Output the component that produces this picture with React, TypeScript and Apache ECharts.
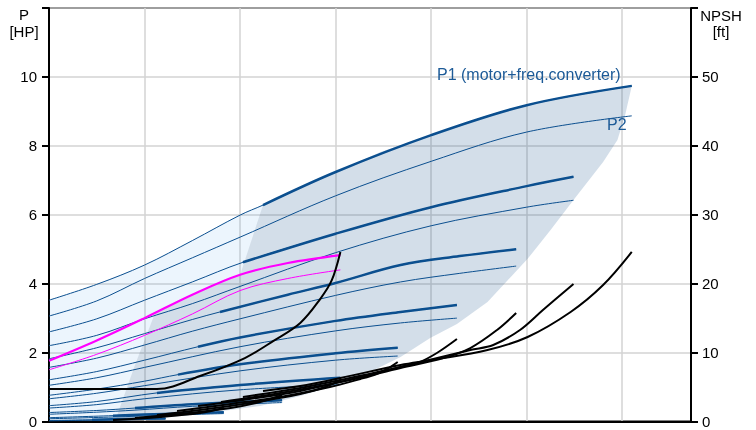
import { useEffect, useRef } from "react";
import * as echarts from "echarts";

// x: flow (grid every 10 units), left y: P [HP], right y: NPSH [ft]
const xMax = 67.2;
const leftMax = 12;
const rightMax = 60;

// Power curves per speed (P1 = motor+freq.converter, P2 = shaft)
const p1A = [[0, 3.52], [5, 3.98], [10, 4.54], [15, 5.25], [20, 5.99], [22.4, 6.28], [30, 7.24], [40, 8.31], [50, 9.18], [61, 9.74]];
const p2A = [[0, 3.06], [5, 3.5], [10, 4.15], [15, 4.75], [20, 5.35], [30, 6.55], [40, 7.55], [50, 8.4], [61, 8.87]];
const p1B = [[0, 2.6], [5, 2.98], [10, 3.52], [15, 4.05], [20.3, 4.62], [30, 5.45], [40, 6.22], [50, 6.83], [54.9, 7.1]];
const p2B = [[0, 2.2], [5, 2.5], [10, 2.98], [15, 3.42], [20, 3.92], [30, 4.9], [40, 5.68], [50, 6.22], [54.9, 6.42]];
const p1C = [[0, 1.82], [5, 2.14], [10, 2.55], [15, 2.96], [17.9, 3.18], [25, 3.68], [30, 4.02], [36.8, 4.54], [43, 4.8], [48.9, 5.0]];
const p2C = [[0, 1.57], [5, 1.84], [10, 2.22], [15, 2.62], [20, 2.98], [30, 3.66], [36.8, 4.05], [43, 4.3], [48.9, 4.51]];
const p1D = [[0, 1.21], [5, 1.45], [10, 1.78], [15.6, 2.17], [20, 2.44], [30, 2.92], [36.8, 3.18], [42.7, 3.38]];
const p2D = [[0, 1.05], [5, 1.27], [10, 1.57], [20, 2.17], [30, 2.63], [36.8, 2.86], [42.7, 3.0]];
const p1E = [[0, 0.76], [5, 0.94], [10, 1.17], [13.5, 1.36], [20, 1.66], [30, 1.98], [36.5, 2.14]];
const p2E = [[0, 0.66], [5, 0.82], [10, 1.04], [20, 1.47], [30, 1.78], [36.5, 1.9]];
const p1F = [[0, 0.46], [5, 0.58], [11.3, 0.83], [20, 1.06], [30.5, 1.27]];
const p2F = [[0, 0.39], [5, 0.49], [10, 0.66], [20, 0.92], [30.5, 1.07]];
const p1G = [[0, 0.26], [5, 0.32], [9, 0.39], [15, 0.5], [24.4, 0.62]];
const p2G = [[0, 0.21], [5, 0.27], [9, 0.33], [15, 0.44], [24.4, 0.55]];
const p1H = [[0, 0.11], [6.7, 0.17], [12, 0.22], [18.3, 0.27]];
const p2H = [[0, 0.08], [6.7, 0.13], [12, 0.18], [18.3, 0.23]];
const p1I = [[0, 0.03], [4.5, 0.05], [8, 0.07], [12.2, 0.09]];
const p2I = [[0, 0.02], [4.5, 0.04], [8, 0.06], [12.2, 0.08]];
const thickFrom = [22.4, 20.3, 17.9, 15.6, 13.5, 11.3, 9, 6.7, 4.5];

// Magenta curves
const p1M = [[0, 1.76], [5, 2.35], [10, 3.0], [15, 3.68], [20, 4.26], [25, 4.6], [30.5, 4.83]];
const p2M = [[0, 1.5], [5, 1.95], [10, 2.5], [15, 3.12], [20, 3.8], [25, 4.15], [30.5, 4.4]];

// NPSH curves [ft]
const npshA = [[22.4, 4.43], [26.3, 5.15], [30.5, 6.31], [36.8, 8.2], [40, 8.92], [45.9, 10.37], [50.1, 12.26], [54.6, 15.89], [58, 19.8], [61, 24.6]];
const npshB = [[20.3, 3.55], [26.3, 4.86], [30.5, 6.02], [36.8, 7.91], [44.1, 10.37], [46.5, 11.1], [49.3, 13.28], [51.7, 16.18], [54.9, 19.95]];
const npshC = [[18, 2.83], [24.2, 4.13], [30.5, 5.73], [36.8, 7.76], [41.3, 9.21], [44.1, 10.66], [46.9, 13.28], [48.9, 15.74]];
const npshD = [[15.6, 2.25], [21, 3.26], [26.3, 4.43], [32.6, 6.46], [36.8, 7.91], [38.8, 8.63], [40.6, 9.94], [42.7, 11.97]];
const npshE = [[13.4, 1.52], [19, 2.54], [24.2, 3.55], [29.4, 5.0], [32.6, 6.17], [34.3, 6.89], [35.4, 7.62], [36.5, 8.63]];
const npshF = [[11.3, 0.94], [15.8, 1.67], [21, 2.68], [26.3, 3.99], [28.9, 5.0], [30.5, 6.02]];
const npshG = [[9, 0.51], [13.7, 1.09], [19, 1.96], [22.1, 2.83], [24.4, 3.85]];
const npshH = [[6.7, 0.22], [11.6, 0.65], [15.8, 1.23], [18.3, 1.96]];
const npshM = [[0, 4.72], [11.3, 4.72], [15.8, 6.6], [20.5, 9.21], [23.5, 11.7], [26.3, 14.3], [28.4, 17.8], [29.6, 20.5], [30.5, 24.6]];

// Regions (in flow / HP units)
const paleRegion = [[0, 0], [0, 3.52], [5, 3.98], [10, 4.54], [15, 5.25], [20, 5.99], [22.4, 6.28], [20, 4.25], [18.4, 4.08], [15.8, 3.76], [13.2, 3.41], [11.1, 3.15], [9.0, 1.64], [6.9, 0]];
const darkRegion = [
  [6.9, 0], [9.0, 1.64], [11.1, 3.15], [13.2, 3.41], [15.8, 3.76], [18.4, 4.08], [20.0, 4.25], [22.4, 6.28],
  [26.3, 6.77], [30.1, 7.24], [34.7, 7.82], [39.9, 8.31], [45.1, 8.78], [50.1, 9.18], [55.6, 9.5], [61.0, 9.74],
  [60.3, 8.89], [59.5, 8.17], [58.0, 7.53], [54.9, 6.43], [52.5, 5.56], [50.1, 4.72], [45.9, 3.47], [42.7, 2.83],
  [39.9, 2.42], [36.8, 1.87], [33.6, 1.44], [30.5, 1.09], [26.3, 0.74], [22.1, 0.45], [15.8, 0.22], [10.6, 0.07],
];

const P1_LABEL = "P1 (motor+freq.converter)";
const P2_LABEL = "P2";

const BLUE = "#0b4f8f";
const FONT = '"Liberation Sans", Arial, sans-serif';

export default function App() {
  const ref = useRef<HTMLDivElement>(null);
  useEffect(() => {
    const chart = echarts.init(ref.current!, null, { renderer: "svg" });
    const p1s = [p1A, p1B, p1C, p1D, p1E, p1F, p1G, p1H, p1I];
    const p2s = [p2A, p2B, p2C, p2D, p2E, p2F, p2G, p2H, p2I];
    const npshs = [npshA, npshB, npshC, npshD, npshE, npshF, npshG, npshH];

    const line = (data: number[][], color: string, width: number, yAxisIndex = 0, z = 3) => ({
      type: "line",
      data,
      yAxisIndex,
      symbol: "none",
      showSymbol: false,
      smooth: 0.35,
      lineStyle: { color, width },
      silent: true,
      z,
    });
    const poly = (pts: number[][], fill: string, z: number) => ({
      type: "custom",
      data: [[0, 0]],
      silent: true,
      z,
      renderItem: (_p: any, api: any) => ({
        type: "polygon",
        shape: { points: pts.map((p) => api.coord(p)) },
        style: { fill },
      }),
    });

    const series: any[] = [
      poly(paleRegion, "rgba(40,140,230,0.085)", 1),
      poly(darkRegion, "rgba(20,80,140,0.19)", 1),
    ];
    p2s.forEach((d) => series.push(line(d, BLUE, 1)));
    p1s.forEach((d, i) => {
      series.push(line(d, BLUE, 1));
      series.push(line(d.filter((p) => p[0] >= thickFrom[i]), BLUE, 2.5, 0, 4));
    });
    series.push(line(p2M, "#ff00ff", 1, 0, 5));
    series.push(line(p1M, "#ff00ff", 2.2, 0, 5));
    npshs.forEach((d) => series.push(line(d, "#000", 2, 1, 6)));
    series.push(line(npshM, "#000", 2, 1, 6));

    const axisText = { color: "#000", fontSize: 15, fontFamily: FONT };
    chart.setOption({
      animation: false,
      grid: { left: 49, right: 65, top: 8, bottom: 8.5, show: true, borderColor: "#000", borderWidth: 2 },
      xAxis: {
        type: "value",
        min: 0,
        max: xMax,
        interval: 10,
        axisLabel: { show: false },
        axisTick: { show: false },
        axisLine: { show: true, lineStyle: { color: "#000", width: 2 } },
        splitLine: { show: true, lineStyle: { color: "#d3d3d3", width: 1.5 } },
      },
      yAxis: [
        {
          type: "value",
          min: 0,
          max: leftMax,
          interval: 2,
          position: "left",
          axisLine: { show: true, lineStyle: { color: "#000", width: 2 } },
          axisTick: { show: true, inside: false, length: 7, lineStyle: { color: "#000", width: 2 } },
          axisLabel: { ...axisText, margin: 12, formatter: (v: number) => (v >= leftMax ? "" : String(v)) },
          splitLine: { show: true, lineStyle: { color: "#d3d3d3", width: 1.5 } },
        },
        {
          type: "value",
          min: 0,
          max: rightMax,
          interval: 10,
          position: "right",
          axisLine: { show: true, lineStyle: { color: "#000", width: 2 } },
          axisTick: { show: true, inside: false, length: 7, lineStyle: { color: "#000", width: 2 } },
          axisLabel: { ...axisText, margin: 11, formatter: (v: number) => (v >= rightMax ? "" : String(v)) },
          splitLine: { show: false },
        },
      ],
      graphic: [
        { type: "text", x: 24, y: 14, style: { text: "P", fill: "#000", font: `15px ${FONT}`, align: "center", verticalAlign: "middle" } },
        { type: "text", x: 24, y: 31, style: { text: "[HP]", fill: "#000", font: `15px ${FONT}`, align: "center", verticalAlign: "middle" } },
        { type: "text", x: 721, y: 15, style: { text: "NPSH", fill: "#000", font: `15px ${FONT}`, align: "center", verticalAlign: "middle" } },
        { type: "text", x: 721, y: 31, style: { text: "[ft]", fill: "#000", font: `15px ${FONT}`, align: "center", verticalAlign: "middle" } },
        { type: "text", x: 437, y: 74, z: 10, style: { text: P1_LABEL, fill: "#1c5a97", font: `16px ${FONT}`, align: "left", verticalAlign: "middle" } },
        { type: "text", x: 607, y: 124, z: 10, style: { text: P2_LABEL, fill: "#1c5a97", font: `16px ${FONT}`, align: "left", verticalAlign: "middle" } },
      ],
      series,
    });
    return () => chart.dispose();
  }, []);
  return <div ref={ref} style={{ position: "fixed", left: 0, top: 0, width: 756, height: 430 }} />;
}
